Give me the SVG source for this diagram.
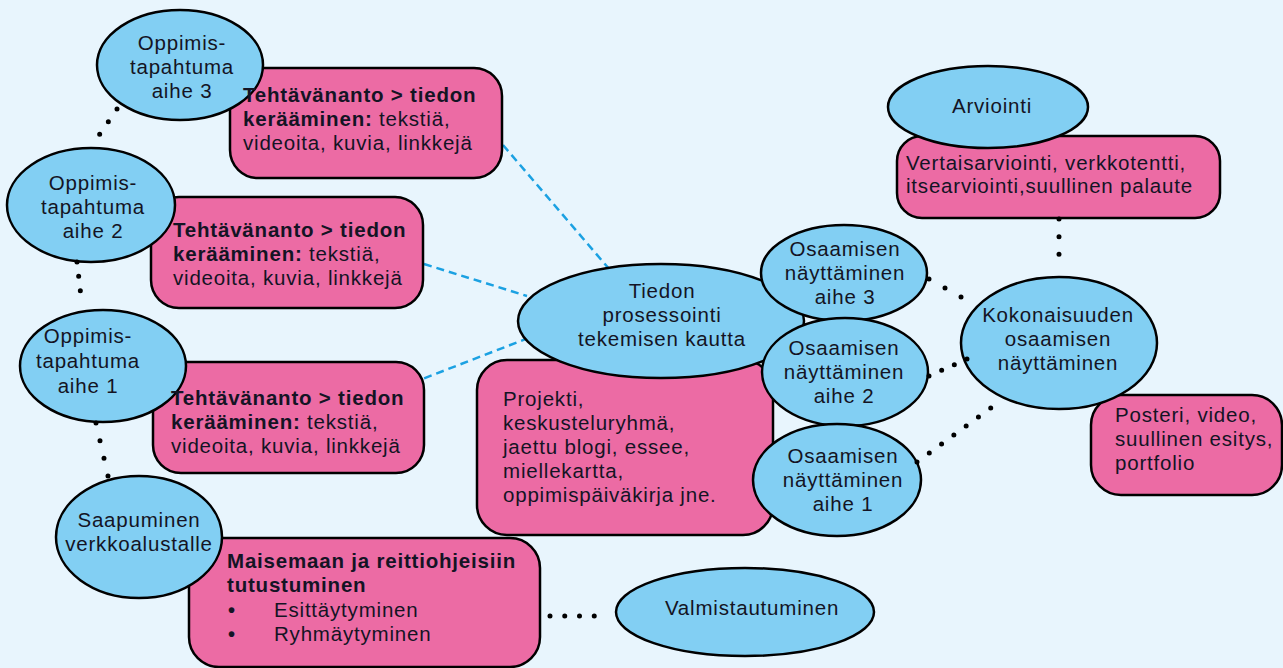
<svg xmlns="http://www.w3.org/2000/svg" width="1283" height="668" viewBox="0 0 1283 668">
<style>
.bg{fill:#e8f5fd}
.ell{fill:#82cff3;stroke:#000;stroke-width:2.5}
.box{fill:#ec6ba4;stroke:#000;stroke-width:2.5}
text{font-family:"Liberation Sans",Arial,sans-serif;font-size:20.5px;letter-spacing:0.8px;fill:#141424}
.c{text-anchor:middle}
.b{font-weight:bold}
.bul{font-size:20px;font-weight:bold;letter-spacing:0}
.dot{fill:none;stroke:#000;stroke-width:5;stroke-linecap:round}
.dash{fill:none;stroke:#1ba1e2;stroke-width:2.5;stroke-dasharray:8 5}
</style>
<rect class="bg" x="0" y="0" width="1283" height="668"/>
<g id="connectors">
<path class="dash" d="M503,145 L610,270"/>
<path class="dash" d="M424,264 L527,296"/>
<path class="dash" d="M412,383 L531,337"/>
</g>
<g id="box-teht3"><rect class="box" x="230" y="68" width="272" height="110" rx="28"/></g>
<g id="box-teht2"><rect class="box" x="151" y="197" width="272" height="111" rx="28"/></g>
<g id="box-teht1"><rect class="box" x="153" y="362" width="271" height="111" rx="28"/></g>
<g id="box-maisema"><rect class="box" x="189" y="538" width="351" height="129" rx="30"/></g>
<g id="box-projekti"><rect class="box" x="477" y="360" width="296" height="175" rx="30"/></g>
<g id="box-vertais"><rect class="box" x="897" y="136" width="323" height="82" rx="25"/></g>
<g id="box-posteri"><rect class="box" x="1091" y="395" width="191" height="100" rx="30"/></g>
<g id="oppimis3"><ellipse class="ell" cx="180" cy="65" rx="83" ry="55"/>
<text class="c" x="182" y="50">Oppimis-</text><text class="c" x="182" y="74">tapahtuma</text><text class="c" x="182" y="98">aihe 3</text></g>
<g id="oppimis2"><ellipse class="ell" cx="91" cy="205" rx="84" ry="57"/>
<text class="c" x="93" y="190">Oppimis-</text><text class="c" x="93" y="214">tapahtuma</text><text class="c" x="93" y="238">aihe 2</text></g>
<g id="oppimis1"><ellipse class="ell" cx="103" cy="366" rx="83" ry="56"/>
<text class="c" x="88" y="343">Oppimis-</text><text class="c" x="88" y="368">tapahtuma</text><text class="c" x="88" y="393">aihe 1</text></g>
<g id="saapuminen"><ellipse class="ell" cx="139" cy="537" rx="83" ry="61"/>
<text class="c" x="139" y="527">Saapuminen</text><text class="c" x="139" y="551">verkkoalustalle</text></g>
<g id="valmistautuminen"><ellipse class="ell" cx="745" cy="612" rx="129" ry="44"/>
<text class="c" x="752" y="615">Valmistautuminen</text></g>
<g id="tiedon"><ellipse class="ell" cx="661" cy="321" rx="143" ry="57"/>
<text class="c" x="662" y="298">Tiedon</text><text class="c" x="662" y="322">prosessointi</text><text class="c" x="662" y="346">tekemisen kautta</text></g>
<g id="osaamisen3"><ellipse class="ell" cx="844" cy="273" rx="83" ry="48"/>
<text class="c" x="845" y="256">Osaamisen</text><text class="c" x="845" y="280">näyttäminen</text><text class="c" x="845" y="304">aihe 3</text></g>
<g id="osaamisen2"><ellipse class="ell" cx="845" cy="372" rx="83" ry="54"/>
<text class="c" x="844" y="355">Osaamisen</text><text class="c" x="844" y="379">näyttäminen</text><text class="c" x="844" y="403">aihe 2</text></g>
<g id="osaamisen1"><ellipse class="ell" cx="837" cy="480" rx="84" ry="56"/>
<text class="c" x="843" y="463">Osaamisen</text><text class="c" x="843" y="487">näyttäminen</text><text class="c" x="843" y="511">aihe 1</text></g>
<g id="kokonaisuus"><ellipse class="ell" cx="1059" cy="343" rx="98" ry="66"/>
<text class="c" x="1058" y="322">Kokonaisuuden</text><text class="c" x="1058" y="346">osaamisen</text><text class="c" x="1058" y="370">näyttäminen</text></g>
<g id="arviointi"><ellipse class="ell" cx="988" cy="107" rx="100" ry="41"/>
<text class="c" x="992" y="113">Arviointi</text></g>
<g id="texts">
<text x="243" y="102"><tspan class="b">Tehtävänanto &gt; tiedon</tspan></text>
<text x="243" y="126"><tspan class="b">kerääminen:</tspan> tekstiä,</text>
<text x="243" y="150">videoita, kuvia, linkkejä</text>
<text x="173" y="237"><tspan class="b">Tehtävänanto &gt; tiedon</tspan></text>
<text x="173" y="261"><tspan class="b">kerääminen:</tspan> tekstiä,</text>
<text x="173" y="285">videoita, kuvia, linkkejä</text>
<text x="171" y="405"><tspan class="b">Tehtävänanto &gt; tiedon</tspan></text>
<text x="171" y="429"><tspan class="b">kerääminen:</tspan> tekstiä,</text>
<text x="171" y="453">videoita, kuvia, linkkejä</text>
<text class="b" x="227" y="568">Maisemaan ja reittiohjeisiin</text>
<text class="b" x="227" y="592">tutustuminen</text>
<text class="bul" x="228" y="617">•</text><text x="274" y="617">Esittäytyminen</text>
<text class="bul" x="228" y="641">•</text><text x="274" y="641">Ryhmäytyminen</text>
<text x="503" y="406">Projekti,</text>
<text x="503" y="430">keskusteluryhmä,</text>
<text x="503" y="454">jaettu blogi, essee,</text>
<text x="503" y="478">miellekartta,</text>
<text x="503" y="502">oppimispäiväkirja jne.</text>
<text x="906" y="170">Vertaisarviointi, verkkotentti,</text>
<text x="906" y="193">itsearviointi,suullinen palaute</text>
<text x="1115" y="422">Posteri, video,</text>
<text x="1115" y="446">suullinen esitys,</text>
<text x="1115" y="470">portfolio</text>
</g>
<g id="dotted-connectors">
<path class="dot" style="stroke-dasharray:0 15.35" d="M117,109 L91,147"/>
<path class="dot" style="stroke-dasharray:0 14.43" d="M77,262 L82,305"/>
<path class="dot" style="stroke-dasharray:0 18.1" d="M96,423 L108,476"/>
<path class="dot" style="stroke-dasharray:0 14.75" d="M550,616 L609,616"/>
<path class="dot" style="stroke-dasharray:0 18.37" d="M929,279 L977,306"/>
<path class="dot" style="stroke-dasharray:0 13.87" d="M929,376 L967,359"/>
<path class="dot" style="stroke-dasharray:0 15.23" d="M917,462 L1003,399"/>
<path class="dot" style="stroke-dasharray:0 17.67" d="M1059,219 L1059,272"/>
</g>
</svg>
